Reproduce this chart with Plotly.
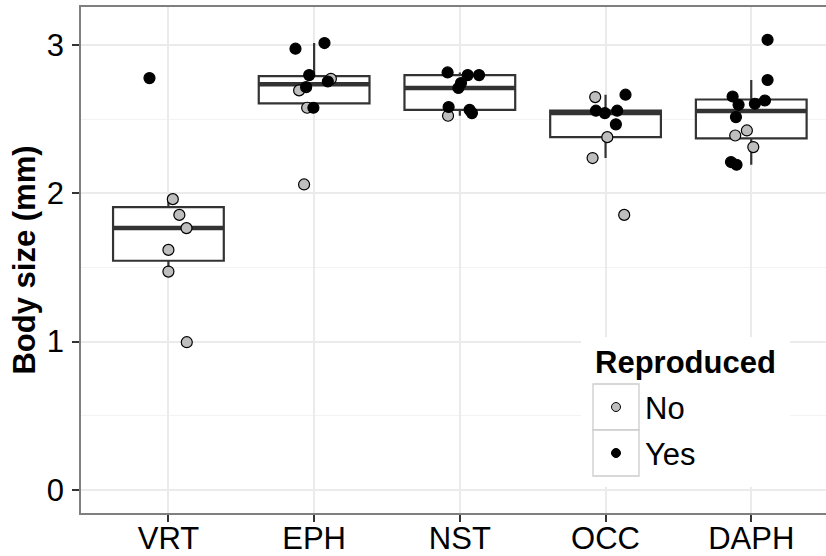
import numpy as np
import plotly.graph_objects as go

# ---------------- data ----------------
categories = ["VRT", "EPH", "NST", "OCC", "DAPH"]

# one entry per animal: group index, body size (mm), reproduced?, horizontal jitter
group = ([0] * 7) + ([1] * 10) + ([2] * 9) + ([3] * 9) + ([4] * 12)
body_size = [
    2.776, 1.960, 1.854, 1.765, 1.618, 1.472, 0.996,
    2.974, 3.012, 2.796, 2.771, 2.753, 2.715, 2.693, 2.576, 2.576, 2.059,
    2.814, 2.796, 2.796, 2.742, 2.709, 2.581, 2.562, 2.540, 2.522,
    2.648, 2.664, 2.556, 2.540, 2.556, 2.464, 2.378, 2.237, 1.854,
    3.034, 2.763, 2.652, 2.596, 2.603, 2.625, 2.513, 2.423, 2.389, 2.311, 2.210, 2.192,
]
reproduced = [
    "Yes", "No", "No", "No", "No", "No", "No",
    "Yes", "Yes", "Yes", "No", "Yes", "Yes", "No", "No", "Yes", "No",
    "Yes", "Yes", "Yes", "Yes", "Yes", "Yes", "Yes", "Yes", "No",
    "No", "Yes", "Yes", "Yes", "Yes", "Yes", "No", "No", "No",
    "Yes", "Yes", "Yes", "Yes", "Yes", "Yes", "Yes", "No", "No", "No", "Yes", "Yes",
]
jitter = [
    -0.130, 0.030, 0.075, 0.124, 0.000, 0.000, 0.126,
    -0.128, 0.071, -0.034, 0.115, 0.094, -0.055, -0.103, -0.048, -0.005, -0.069,
    -0.084, 0.054, 0.132, 0.008, -0.010, -0.077, 0.067, 0.083, -0.081,
    -0.071, 0.137, -0.066, -0.005, 0.080, 0.071, 0.012, -0.089, 0.128,
    0.112, 0.112, -0.128, -0.087, 0.025, 0.094, -0.105, -0.030, -0.110, 0.014, -0.139, -0.101,
]
y_ticks = [0, 1, 2, 3]
legend_levels = ["No", "Yes"]

# ---------------- styling ----------------
FONT = "Liberation Sans, Arial, Helvetica, sans-serif"
FS = 31
FILL = {"No": "#BEBEBE", "Yes": "#000000"}
BOX_W = 0.76
W, H = 826, 556
ML, MR, MT, MB = 81, 0, 7, 43
PW, PH = W - ML - MR, H - MT - MB


def pxx(x):
    return (x - ML) / PW


def pxy(y):
    return (MT + PH - y) / PH


group_arr = np.array(group)
size_arr = np.array(body_size)

# boxplot statistics (R type-7 quantiles, 1.5 IQR whiskers) computed from the data
q1, med, q3, lo, hi = [], [], [], [], []
for g in range(len(categories)):
    v = np.sort(size_arr[group_arr == g])
    a, m, b = np.percentile(v, [25, 50, 75])
    iqr = b - a
    q1.append(a); med.append(m); q3.append(b)
    lo.append(v[v >= a - 1.5 * iqr].min())
    hi.append(v[v <= b + 1.5 * iqr].max())

fig = go.Figure()

fig.add_trace(go.Box(
    x=list(range(len(categories))), q1=q1, median=med, q3=q3,
    lowerfence=lo, upperfence=hi, width=BOX_W, whiskerwidth=0,
    fillcolor="white", line=dict(color="#333333", width=2.2),
    boxpoints=False, showlegend=False, hoverinfo="skip",
))

# thick median bars (ggplot style)
mx, my = [], []
for g in range(len(categories)):
    mx += [g - BOX_W / 2, g + BOX_W / 2, None]
    my += [med[g], med[g], None]
fig.add_trace(go.Scatter(x=mx, y=my, mode="lines",
                         line=dict(color="#333333", width=4.5),
                         showlegend=False, hoverinfo="skip"))

for lvl in legend_levels:
    idx = [i for i, r in enumerate(reproduced) if r == lvl]
    fig.add_trace(go.Scatter(
        x=[group[i] + jitter[i] for i in idx],
        y=[body_size[i] for i in idx],
        mode="markers", name=lvl, showlegend=False,
        marker=dict(size=11, color=FILL[lvl], line=dict(color="#000000", width=1.2)),
    ))

# ---------------- manual ggplot-like legend ----------------
shapes = [
    dict(type="rect", xref="paper", yref="paper", layer="above",
         x0=pxx(581), x1=pxx(790), y0=pxy(487), y1=pxy(337),
         fillcolor="white", line=dict(width=0)),
]
annotations = [
    dict(text="<b>Reproduced</b>", xref="paper", yref="paper", x=pxx(593), y=pxy(362),
         xanchor="left", yanchor="middle", showarrow=False,
         font=dict(family=FONT, size=FS, color="#000000")),
]
key_top = 384
for k, lvl in enumerate(legend_levels):
    t = key_top + 46 * k
    shapes.append(dict(type="rect", xref="paper", yref="paper", layer="above",
                       x0=pxx(593), x1=pxx(639), y0=pxy(t + 46), y1=pxy(t),
                       fillcolor="white", line=dict(color="#CCCCCC", width=1.3)))
    cx, cy, r = 616, t + 23, 4.5
    shapes.append(dict(type="circle", xref="paper", yref="paper", layer="above",
                       x0=pxx(cx - r), x1=pxx(cx + r), y0=pxy(cy + r), y1=pxy(cy - r),
                       fillcolor=FILL[lvl], line=dict(color="#000000", width=1)))
    annotations.append(dict(text=lvl, xref="paper", yref="paper", x=pxx(643), y=pxy(t + 24),
                            xanchor="left", yanchor="middle", showarrow=False,
                            font=dict(family=FONT, size=FS, color="#000000")))

fig.update_layout(
    width=W, height=H, margin=dict(l=ML, r=MR, t=MT, b=MB, autoexpand=False),
    paper_bgcolor="white", plot_bgcolor="white",
    font=dict(family=FONT, size=FS, color="#000000"),
    shapes=shapes, annotations=annotations, showlegend=False,
)
fig.update_xaxes(
    range=[-0.6, 4.513], tickmode="array", tickvals=list(range(len(categories))),
    ticktext=categories, showgrid=True, gridcolor="#EBEBEB", gridwidth=1.5,
    zeroline=False, showline=True, linecolor="#7F7F7F", linewidth=1.6, mirror=True,
    ticks="outside", ticklen=7, tickwidth=1.6, tickcolor="#333333",
    ticklabelstandoff=-10,
    tickfont=dict(family=FONT, size=FS, color="#000000"),
)
fig.update_yaxes(
    range=[-0.155, 3.255], tickmode="array", tickvals=y_ticks,
    showgrid=True, gridcolor="#EBEBEB", gridwidth=1.5,
    minor=dict(dtick=0.5, tick0=0, showgrid=True, gridcolor="#F3F3F3", gridwidth=1),
    zeroline=False, showline=True, linecolor="#7F7F7F", linewidth=1.6, mirror=False,
    ticks="outside", ticklen=7, tickwidth=1.6, tickcolor="#333333",
    ticklabelstandoff=2,
    tickfont=dict(family=FONT, size=FS, color="#000000"),
    title=dict(text="<b>Body size (mm)</b>", standoff=2,
               font=dict(family=FONT, size=FS, color="#000000")),
)

fig.write_html("out.html")
